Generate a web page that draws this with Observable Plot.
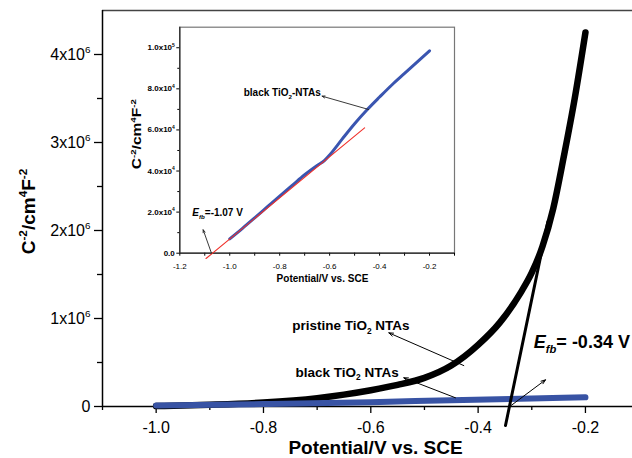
<!DOCTYPE html>
<html>
<head>
<meta charset="utf-8">
<script src="https://cdn.jsdelivr.net/npm/d3@7"></script>
<script src="https://cdn.jsdelivr.net/npm/@observablehq/plot@0.6"></script>
<style>
  html, body { margin: 0; padding: 0; background: #fff; }
  #wrap { position: relative; width: 632px; height: 458px; overflow: hidden; background: #fff; }
  #wrap svg { position: absolute; }
</style>
</head>
<body>
<div id="wrap"></div>
<script>
// ---------- main chart data ----------
const pristineV = [-1.0, -0.9, -0.8, -0.7, -0.65, -0.6, -0.55, -0.5, -0.45, -0.4, -0.36, -0.32, -0.3, -0.28, -0.26, -0.24, -0.22, -0.2];
const pristineC = [0.005e6, 0.02e6, 0.045e6, 0.095e6, 0.135e6, 0.185e6, 0.245e6, 0.325e6, 0.465e6, 0.70e6, 0.95e6, 1.30e6, 1.52e6, 1.82e6, 2.25e6, 2.85e6, 3.5e6, 4.25e6];
const blackV = [-1.0, -0.8, -0.6, -0.45, -0.3, -0.2];
const blackC = [0.012e6, 0.028e6, 0.048e6, 0.072e6, 0.092e6, 0.104e6];
const tangentV = [-0.349, -0.27];
const tangentC = [-0.216e6, 2.1e6];

const mainXTicks = [-1.0, -0.8, -0.6, -0.4, -0.2];
const mainXMinor = [-1.1, -0.9, -0.7, -0.5, -0.3, -0.1];
const mainYTicks = [0, 1e6, 2e6, 3e6, 4e6];
const mainYMinor = [0.5e6, 1.5e6, 2.5e6, 3.5e6];
const mainYLabels = ["0", "1x10^{6}", "2x10^{6}", "3x10^{6}", "4x10^{6}"];

const mainLabelText = ["pristine TiO_{2} NTAs", "black TiO_{2} NTAs"];
const mainLabelV = [-0.7465, -0.7403];
const mainLabelC = [0.919e6, 0.389e6];
const efbMainText = ["~{E}!{fb}= -0.34 V"];
const efbMainV = [-0.2962];
const efbMainC = [0.73e6];
const mainArrowFromV = [-0.4267, -0.4422, -0.341];
const mainArrowFromC = [0.465e6, 0.099e6, 0.0];
const mainArrowToV = [-0.5664, -0.5385, -0.2744];
const mainArrowToC = [0.837e6, 0.326e6, 0.303e6];

// ---------- inset data ----------
const insetV = [-1.0, -0.95, -0.9, -0.85, -0.8, -0.75, -0.7, -0.65, -0.62, -0.6, -0.55, -0.5, -0.45, -0.4, -0.35, -0.3, -0.25, -0.2];
const insetC = [7.0e3, 1.2e4, 1.72e4, 2.25e4, 2.78e4, 3.3e4, 3.82e4, 4.27e4, 4.52e4, 4.78e4, 5.55e4, 6.3e4, 6.98e4, 7.6e4, 8.2e4, 8.75e4, 9.3e4, 9.85e4];
const fitV = [-1.095, -0.46];
const fitC = [-2.6e3, 6.1e4];

const insetXTicks = [-1.2, -1.0, -0.8, -0.6, -0.4, -0.2];
const insetXMinor = [-1.1, -0.9, -0.7, -0.5, -0.3, -0.1];
const insetYTicks = [0, 2e4, 4e4, 6e4, 8e4, 1e5];
const insetYMinor = [1e4, 3e4, 5e4, 7e4, 9e4];
const insetYLabels = ["0.0", "2.0x10^{4}", "4.0x10^{4}", "6.0x10^{4}", "8.0x10^{4}", "1.0x10^{5}"];

const insetLabelText = ["black TiO_{2}-NTAs", "~{E}!{fb}=-1.07 V"];
const insetLabelV = [-0.944, -1.150];
const insetLabelC = [7.8e4, 1.95e4];
const insetArrowFromV = [-0.444, -1.0732];
const insetArrowFromC = [6.995e4, 0];
const insetArrowToV = [-0.6304, -1.1064];
const insetArrowToC = [7.644e4, 1.14e4];

const FONT = "'Liberation Sans', Arial, Helvetica, sans-serif";
const zip = (a, b) => a.map((v, i) => ({v, c: b[i]}));
const fmtX = d => d.toFixed(1);

// ---------- main plot ----------
const mainLabels = mainLabelText.map((t, i) => ({t, v: mainLabelV[i], c: mainLabelC[i]}));
const efbMain = efbMainText.map((t, i) => ({t, v: efbMainV[i], c: efbMainC[i]}));
const mainArrows = mainArrowFromV.map((v, i) => ({x1: v, y1: mainArrowFromC[i], x2: mainArrowToV[i], y2: mainArrowToC[i]}));

const main = Plot.plot({
  width: 632, height: 458,
  marginLeft: 102, marginRight: 0, marginTop: 10, marginBottom: 52,
  x: {domain: [-1.1, -0.1], range: [102, 638.6]},
  y: {domain: [0, 4.5e6], range: [406, 10]},
  style: {fontFamily: FONT, background: "transparent", color: "#000"},
  marks: [
    Plot.ruleY([4.5e6], {stroke: "#444", strokeWidth: 1.5}),
    Plot.axisX({ticks: mainXTicks, tickSize: 7, tickPadding: 8, tickFormat: fmtX, fontSize: 16, strokeWidth: 1.3, label: null}),
    Plot.axisX({ticks: mainXMinor, tickSize: 4, tickFormat: () => "", strokeWidth: 1.3, label: null}),
    Plot.axisY({ticks: mainYTicks, tickSize: 8, tickPadding: 4, tickFormat: d => mainYLabels[mainYTicks.indexOf(d)], fontSize: 16, strokeWidth: 1.3, label: null}),
    Plot.axisY({ticks: mainYMinor, tickSize: 5, tickFormat: () => "", strokeWidth: 1.3, label: null}),
    Plot.ruleX([-1.1], {stroke: "#000", strokeWidth: 1.5}),
    Plot.ruleY([0], {stroke: "#000", strokeWidth: 1.5}),
    Plot.line(zip(pristineV, pristineC), {x: "v", y: "c", stroke: "#000", strokeWidth: 6.5, curve: "monotone-x", strokeLinecap: "round"}),
    Plot.line(zip(blackV, blackC), {x: "v", y: "c", stroke: "#3853a4", strokeWidth: 6, curve: "monotone-x", strokeLinecap: "round"}),
    Plot.line(zip(tangentV, tangentC), {x: "v", y: "c", stroke: "#000", strokeWidth: 3}),
    Plot.arrow(mainArrows, {x1: "x1", y1: "y1", x2: "x2", y2: "y2", stroke: "#000", strokeWidth: 1, headLength: 7, headAngle: 40}),
    Plot.text(mainLabels, {x: "v", y: "c", text: "t", textAnchor: "start", fontSize: 13.5, fontWeight: "bold"}),
    Plot.text(efbMain, {x: "v", y: "c", text: "t", textAnchor: "start", fontSize: 18, fontWeight: "bold"}),
    Plot.text(["Potential/V vs. SCE"], {frameAnchor: "bottom", textAnchor: "middle", lineAnchor: "middle", dx: 8, dy: 41, fontSize: 19, fontWeight: "bold"}),
    Plot.text(["C^{-2}/cm^{4}F^{-2}"], {frameAnchor: "left", textAnchor: "middle", lineAnchor: "middle", rotate: -90, dx: -74, dy: 3, fontSize: 19, fontWeight: "bold"})
  ]
});

// ---------- inset plot ----------
const insetLabels = insetLabelText.map((t, i) => ({t, v: insetLabelV[i], c: insetLabelC[i]}));
const insetArrows = insetArrowFromV.map((v, i) => ({x1: v, y1: insetArrowFromC[i], x2: insetArrowToV[i], y2: insetArrowToC[i]}));

const inset = Plot.plot({
  width: 340, height: 275,
  marginLeft: 59.3, marginRight: 6, marginTop: 11.7, marginBottom: 37.3,
  x: {domain: [-1.2, -0.1], range: [59.3, 334]},
  y: {domain: [0, 1.1e5], range: [237.7, 11.7]},
  style: {fontFamily: FONT, background: "transparent", color: "#000"},
  marks: [
    Plot.frame({fill: "#fff", stroke: "#777", strokeWidth: 1.2}),
    Plot.axisX({ticks: insetXTicks, tickSize: 3, tickPadding: 7, tickFormat: fmtX, fontSize: 8, label: null}),
    Plot.axisX({ticks: insetXMinor, tickSize: 3, tickFormat: () => "", label: null}),
    Plot.axisY({ticks: insetYTicks, tickSize: 3, tickPadding: 2, tickFormat: d => insetYLabels[insetYTicks.indexOf(d)], fontSize: 8, fontWeight: "bold", label: null}),
    Plot.axisY({ticks: insetYMinor, tickSize: 2, tickFormat: () => "", label: null}),
    Plot.ruleX([-1.2], {stroke: "#222", strokeWidth: 1.2}),
    Plot.ruleY([0], {stroke: "#222", strokeWidth: 1.2}),
    Plot.line(zip(insetV, insetC), {x: "v", y: "c", stroke: "#3a55b0", strokeWidth: 3, curve: "monotone-x", strokeLinecap: "round"}),
    Plot.line(zip(fitV, fitC), {x: "v", y: "c", stroke: "#f0302a", strokeWidth: 1.1}),
    Plot.arrow(insetArrows, {x1: "x1", y1: "y1", x2: "x2", y2: "y2", stroke: "#222", strokeWidth: 0.9, headLength: 5, headAngle: 40}),
    Plot.text(insetLabels, {x: "v", y: "c", text: "t", textAnchor: "start", fontSize: 10, fontWeight: "bold"}),
    Plot.text(["Potential/V vs. SCE"], {frameAnchor: "bottom", textAnchor: "middle", lineAnchor: "middle", dx: 5.3, dy: 26, fontSize: 10, fontWeight: "bold"}),
    Plot.text(["C^{-2}/cm^{4}F^{-2}"], {frameAnchor: "left", textAnchor: "middle", lineAnchor: "middle", rotate: -90, dx: -43, dy: -6, fontSize: 12, fontWeight: "bold"})
  ]
});

const wrap = document.getElementById("wrap");
main.style.left = "0px"; main.style.top = "0px";
inset.style.left = "120px"; inset.style.top = "15px";
wrap.appendChild(main);
wrap.appendChild(inset);

// the inset's axis title is drawn stretched in the reference
inset.querySelectorAll("text").forEach(t => {
  if (t.textContent === "C^{-2}/cm^{4}F^{-2}") {
    t.setAttribute("textLength", "70");
    t.setAttribute("lengthAdjust", "spacingAndGlyphs");
  }
});

// rich text: ^{sup} _{sub} ~{italic} !{italic sub}
function rich(root) {
  const ns = "http://www.w3.org/2000/svg";
  root.querySelectorAll("text").forEach(t => {
    const s = t.textContent;
    if (!/[\^_~!]\{/.test(s)) return;
    const fs = parseFloat(getComputedStyle(t).fontSize);
    while (t.firstChild) t.removeChild(t.firstChild);
    let shift = 0;
    const add = (txt, kind) => {
      if (!txt) return;
      const ts = document.createElementNS(ns, "tspan");
      const target = kind === "^" ? -0.42 * fs : (kind === "_" || kind === "!") ? 0.28 * fs : 0;
      ts.setAttribute("dy", (target - shift).toFixed(2));
      shift = target;
      if (kind === "^" || kind === "_" || kind === "!") ts.setAttribute("font-size", (0.62 * fs).toFixed(2));
      if (kind === "~" || kind === "!") ts.setAttribute("font-style", "italic");
      ts.textContent = txt;
      t.appendChild(ts);
    };
    const re = /([\^_~!])\{([^}]*)\}/g;
    let last = 0, m;
    while ((m = re.exec(s))) {
      add(s.slice(last, m.index), "");
      add(m[2], m[1]);
      last = re.lastIndex;
    }
    add(s.slice(last), "");
  });
}
rich(main);
rich(inset);
</script>
</body>
</html>
